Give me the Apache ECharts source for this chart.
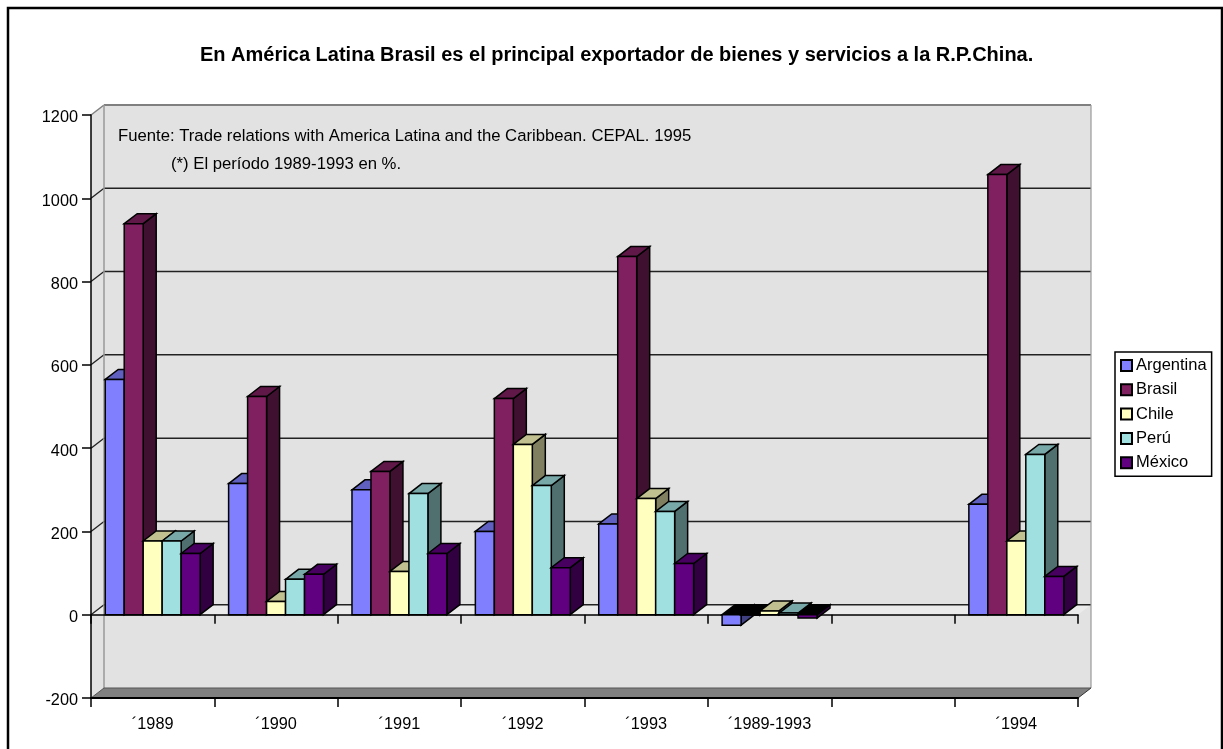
<!DOCTYPE html>
<html><head><meta charset="utf-8">
<style>html,body{margin:0;padding:0;background:#fff;overflow:hidden}#c{width:1223px;height:749px}</style>
<script src="https://cdn.jsdelivr.net/npm/echarts@6/dist/echarts.min.js"></script>
</head><body><div id="c"></div>
<script>
const categories = ['´1989','´1990','´1991','´1992','´1993','´1989-1993','','´1994'];
const yTicks = [-200,0,200,400,600,800,1000,1200];
const argentina = [565,315,300,200,218,-25,null,265];
const brasil = [939,524,344,519,860,-1,null,1057];
const chile = [177,32,104,409,279,9,null,177];
const peru = [177,85,291,310,248,4,null,385];
const mexico = [147,97,147,113,123,-8,null,92];
const seriesNames = ['Argentina','Brasil','Chile','Perú','México'];
const titleText = 'En América Latina Brasil es el principal exportador de bienes y servicios a la R.P.China.';
const noteSource = 'Fuente: Trade relations with America Latina and the Caribbean. CEPAL. 1995';
const notePeriod = '(*) El período 1989-1993 en %.';

const FONT = '"Liberation Sans", Arial, sans-serif';
const DX = 13, DY = -10;
const GAP_UNITS = 6.5;
const palette = [
  {front:'#8080FF', top:'#6060C0', side:'#404080'},
  {front:'#802060', top:'#601848', side:'#401030'},
  {front:'#FFFFC0', top:'#C0C090', side:'#808060'},
  {front:'#A0E0E0', top:'#78A8A8', side:'#507070'},
  {front:'#600080', top:'#480060', side:'#300040'}
];
const allValues = [argentina, brasil, chile, peru, mexico];

function poly(points, fill, stroke, lw){
  return {type:'polygon', shape:{points}, style:{fill, stroke: stroke||'none', lineWidth: lw||0}};
}
function line(x1,y1,x2,y2,stroke,lw){
  return {type:'line', shape:{x1,y1,x2,y2}, style:{stroke, lineWidth:lw, fill:'none'}};
}
function renderWalls(params, api){
  const g = params.coordSys;
  const x0=g.x, x1=g.x+g.width, yT=g.y, yB=g.y+g.height;
  const kids = [];
  kids.push(poly([[x0+DX,yT+DY],[x1+DX,yT+DY],[x1+DX,yB+DY],[x0+DX,yB+DY]],'#E2E2E2'));
  kids.push(poly([[x0,yT],[x0+DX,yT+DY],[x0+DX,yB+DY],[x0,yB]],'#E2E2E2'));
  kids.push(poly([[x0,yB],[x0+DX,yB+DY],[x1+DX,yB+DY],[x1,yB]],'#808080'));
  const yz = api.coord([0,0])[1];
  kids.push(poly([[x0,yz],[x0+DX,yz+DY],[x1+DX,yz+DY],[x1,yz]],'#EBEBEB'));
  yTicks.forEach(t=>{
    if(t===yTicks[0]||t===yTicks[yTicks.length-1]) return;
    const y = api.coord([0,t])[1];
    kids.push(line(x0,y,x0+DX,y+DY,'#222',1.3));
    kids.push(line(x0+DX,y+DY,x1+DX,y+DY,'#222',1.5));
  });
  kids.push(line(x0,yT,x0+DX,yT+DY,'#808080',1.5));
  kids.push(line(x0+DX,yT+DY,x1+DX,yT+DY,'#808080',2));
  kids.push(line(x0+DX,yT+DY,x0+DX,yB+DY,'#999',1.5));
  kids.push(line(x1+DX,yT+DY,x1+DX,yB+DY,'#999',1.2));
  kids.push(line(x0,yB,x0+DX,yB+DY,'#555',1));
  kids.push(line(x1,yB,x1+DX,yB+DY,'#333',1));
  kids.push(line(x0+DX,yB+DY,x1+DX,yB+DY,'#555',1.2));
  return {type:'group', children:kids};
}
function barRenderer(si){
  return function(params, api){
    const v = api.value(1);
    if(v===null||v===undefined||isNaN(v)) return null;
    const idx = api.value(0);
    const c = palette[si];
    const center = api.coord([idx,0]);
    const band = api.size([1,0])[0];
    const w = band/GAP_UNITS;
    const xl = center[0] + (si-2.5)*w;
    const xr = xl + w;
    const y0 = center[1];
    const yv = api.coord([idx,v])[1];
    const yTop = Math.min(y0,yv), yBot = Math.max(y0,yv);
    const S='#000', L=1.5;
    const topFill = v<0 ? '#000' : c.top;
    return {type:'group', children:[
      poly([[xr,yBot],[xr+DX,yBot+DY],[xr+DX,yTop+DY],[xr,yTop]],c.side,S,L),
      poly([[xl,yTop],[xl+DX,yTop+DY],[xr+DX,yTop+DY],[xr,yTop]],topFill,S,L),
      poly([[xl,yTop],[xr,yTop],[xr,yBot],[xl,yBot]],c.front,S,L)
    ]};
  };
}
const barSeries = seriesNames.map((name,si)=>({
  name, type:'custom', coordinateSystem:'cartesian2d', xAxisIndex:0, yAxisIndex:0, z:3, clip:false,
  itemStyle:{color:palette[si].front, borderColor:'#000', borderWidth:1.5},
  renderItem:barRenderer(si),
  encode:{x:0,y:1},
  data:allValues[si].map((v,i)=>[i,v])
}));
const chart = echarts.init(document.getElementById('c'),null,{renderer:'canvas'});
chart.setOption({
  animation:false,
  backgroundColor:'#fff',
  grid:{left:91,right:145,top:115,bottom:51,containLabel:false},
  xAxis:[
    {type:'category',data:categories,position:'bottom',z:1,
     axisLine:{onZero:false,lineStyle:{color:'#000',width:2}},
     axisTick:{show:true,length:9,alignWithLabel:false,interval:0,lineStyle:{color:'#000',width:1.5}},
     axisLabel:{interval:0,margin:19,color:'#000',fontFamily:FONT,fontSize:16.3},
     splitLine:{show:false}},
    {type:'category',data:categories,position:'bottom',z:1,
     axisLine:{onZero:true,onZeroAxisIndex:0,lineStyle:{color:'#000',width:1.5}},
     axisTick:{show:true,length:9,alignWithLabel:false,interval:0,lineStyle:{color:'#000',width:1.5}},
     axisLabel:{show:false},splitLine:{show:false}}
  ],
  yAxis:{type:'value',min:-200,max:1200,interval:200,z:1,
    axisLine:{show:true,onZero:false,lineStyle:{color:'#000',width:1.5}},
    axisTick:{show:true,length:9,lineStyle:{color:'#000',width:1.5}},
    axisLabel:{margin:13,formatter:v=>'{a|'+v+'}',
      rich:{a:{color:'#000',fontFamily:FONT,fontSize:16.3,lineHeight:22,verticalAlign:'bottom'}}},
    splitLine:{show:false}},
  legend:{data:seriesNames,orient:'vertical',left:1115,top:352,padding:[5,5,5,5],itemWidth:11,itemHeight:11,itemGap:7.3,
    icon:'rect',backgroundColor:'#fff',borderColor:'#000',borderWidth:1.5,borderRadius:0,selectedMode:false,
    textStyle:{color:'#000',fontFamily:FONT,fontSize:16.5,padding:[0,0,0,-1]}},
  graphic:[
    {type:'rect',z:0,silent:true,shape:{x:8,y:8,width:1214,height:800},style:{fill:'none',stroke:'#000',lineWidth:2.5}},
    {type:'text',z:10,left:200,top:45,style:{text:titleText,fill:'#000',font:'bold 20px '+FONT}},
    {type:'text',z:10,left:118,top:128,style:{text:noteSource,fill:'#000',font:'16.7px '+FONT}},
    {type:'text',z:10,left:171,top:156,style:{text:notePeriod,fill:'#000',font:'16.7px '+FONT}}
  ],
  series:[{type:'custom',name:'walls',coordinateSystem:'cartesian2d',xAxisIndex:0,yAxisIndex:0,z:0,clip:false,silent:true,
    renderItem:renderWalls,encode:{x:0,y:1},data:[[0,0]]}].concat(barSeries)
});
</script></body></html>
